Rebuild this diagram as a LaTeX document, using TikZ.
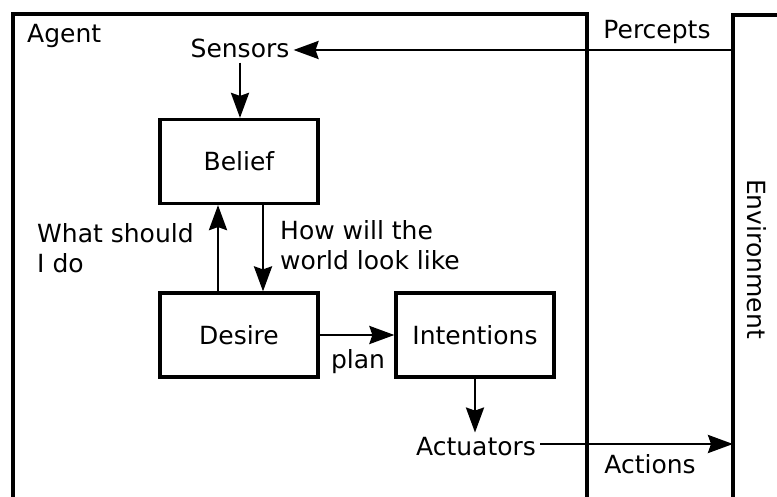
\documentclass[tikz,border=0pt]{standalone}
\usepackage{fontspec}
\setmainfont{DejaVu Sans}
\usetikzlibrary{arrows.meta,calc}
\begin{document}
\begin{tikzpicture}[x=1pt,y=-1pt,
  every node/.style={font=\fontsize{25}{31}\selectfont, inner sep=4pt},
  frame/.style={line width=3.2pt},
  block/.style={draw, line width=3.2pt, minimum width=158pt, minimum height=84pt, inner sep=0pt},
  arr/.style={line width=2.8pt, -{Stealth[length=25pt,width=18pt,inset=3pt]}},
  label/.style={align=left, anchor=base west, inner sep=0pt}
]
\useasboundingbox (0,0) rectangle (777,497);

% agent and environment frames
\draw[frame] (13,497) -- (13,14) -- (587,14) -- (587,497);
\draw[frame] (777,15) -- (733,15) -- (733,497);

\node[anchor=base west, inner sep=0pt] (agent) at (27,43) {Agent};
\node[anchor=base, inner sep=0pt] (percepts) at (657,39) {Percepts};
\node[anchor=base, inner sep=0pt] (actions) at (650,473) {Actions};
\node[rotate=-90, inner sep=0pt] (env) at (757,259) {Environment};

% sensors and actuators
\node[anchor=base] (sensors) at (240,58) {Sensors};
\node[anchor=base] (actuators) at (476,455) {Actuators};

% BDI blocks
\node[block] (belief) at (239,161.5) {Belief};
\node[block] (desire) at (239,335) {Desire};
\node[block] (intentions) at (475,335) {Intentions};

% connector end points on the environment border
\coordinate (pin) at (733,50);
\coordinate (pout) at (733,444);

\draw[arr] (pin) -- (pin -| sensors.east);
\draw[arr] (sensors.south) -- (sensors.south |- belief.north);
\draw[arr] ($(belief.south)+(24,0)$) -- ($(desire.north)+(24,0)$);
\draw[arr] ($(desire.north)+(-21,0)$) -- ($(belief.south)+(-21,0)$);
\draw[arr] (desire.east) -- (intentions.west);
\draw[arr] (intentions.south) -- (intentions.south |- actuators.north);
\draw[arr] (pout -| actuators.east) -- (pout);

% labels (anchored on the baseline of their last line)
\node[label] (what) at (37,273) {What should\\I do};
\node[label] (how) at (280,270) {How will the\\world look like};
\node[anchor=base, inner sep=0pt] (plan) at (358,368) {plan};
\end{tikzpicture}
\end{document}
